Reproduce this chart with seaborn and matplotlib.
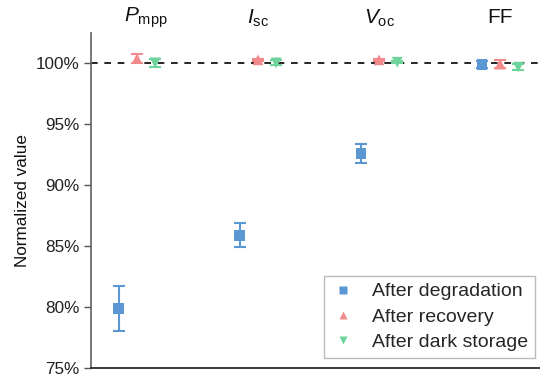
import numpy as np
import pandas as pd
import matplotlib
matplotlib.use("Agg")
import matplotlib.pyplot as plt
import seaborn as sns
from matplotlib.ticker import PercentFormatter

# Parameters and states
params = ["Pmpp", "Isc", "Voc", "FF"]
param_labels = [r"$\mathit{P}_{\mathrm{mpp}}$", r"$\mathit{I}_{\mathrm{sc}}$",
                r"$\mathit{V}_{\mathrm{oc}}$", "FF"]
states = ["After degradation", "After recovery", "After dark storage"]

# Normalized values (%) and standard deviations
degradation = [79.9, 85.9, 92.6, 99.9]
degradation_err = [1.85, 1.0, 0.8, 0.3]
recovery = [100.4, 100.3, 100.3, 99.95]
recovery_err = [0.4, 0.1, 0.1, 0.3]
dark_storage = [100.05, 100.05, 100.1, 99.7]
dark_storage_err = [0.3, 0.2, 0.1, 0.25]

values = [degradation, recovery, dark_storage]
errors = [degradation_err, recovery_err, dark_storage_err]

colors = ["#5b97d2", "#f28a8c", "#6fd39c"]
markers = ["s", "^", "v"]
offsets = [-0.15, 0.0, 0.15]

rows = []
for s, st in enumerate(states):
    for p, par in enumerate(params):
        rows.append({"param": par, "state": st, "x": p + offsets[s],
                     "value": values[s][p], "err": errors[s][p]})
df = pd.DataFrame(rows)

sns.set_theme(style="ticks")
plt.rcParams["font.family"] = ["Liberation Sans", "DejaVu Sans"]
plt.rcParams["mathtext.fontset"] = "custom"
plt.rcParams["mathtext.rm"] = "Liberation Sans"
plt.rcParams["mathtext.it"] = "Liberation Sans:italic"

fig = plt.figure(figsize=(5.4, 3.8), dpi=100)
ax = fig.add_axes([0.1685, 0.0316, 0.8315, 0.8815])

ax.axhline(100, color="black", linestyle=(0, (4, 4)), linewidth=1.2, zorder=1)

for s, st in enumerate(states):
    sub = df[df["state"] == st]
    ax.errorbar(sub["x"], sub["value"], yerr=sub["err"], fmt="none",
                ecolor=colors[s], elinewidth=1.5, capsize=4.5, capthick=1.5, zorder=2)

sns.scatterplot(data=df, x="x", y="value", hue="state", style="state",
                hue_order=states, style_order=states,
                palette=colors, markers=markers, s=60, edgecolor="none",
                ax=ax, zorder=3)

ax.set_xlim(-0.38, 3.33)
ax.set_ylim(75, 102.5)
ax.set_yticks([75, 80, 85, 90, 95, 100])
ax.yaxis.set_major_formatter(PercentFormatter(decimals=0))
ax.set_xticks([])
ax.set_xlabel("")
ax.set_ylabel("Normalized value", fontsize=12.3, color="#111111")
ax.tick_params(axis="y", labelsize=12.3, length=5, width=1, color="#555555",
               labelcolor="#222222")
sns.despine(ax=ax)
ax.spines["left"].set_color("#666666")
ax.spines["bottom"].set_color("#222222")

label_shift = [0.07, 0.0, 0.0, 0.0]
for p, lab in enumerate(param_labels):
    ax.text(p + label_shift[p], 1.045, lab, transform=ax.get_xaxis_transform(),
            ha="center", va="center", fontsize=15, color="#111111")

handles, labels = ax.get_legend_handles_labels()
leg = ax.legend(handles, labels, loc="lower right", bbox_to_anchor=(0.988, 0.03),
                borderaxespad=0, fontsize=14, frameon=True, fancybox=False,
                edgecolor="#aaaaaa", handletextpad=0.8, handlelength=1.3,
                borderpad=0.35, labelspacing=0.4, markerscale=0.8)
leg.get_frame().set_linewidth(1.0)

fig.savefig("out.png", dpi=100)
